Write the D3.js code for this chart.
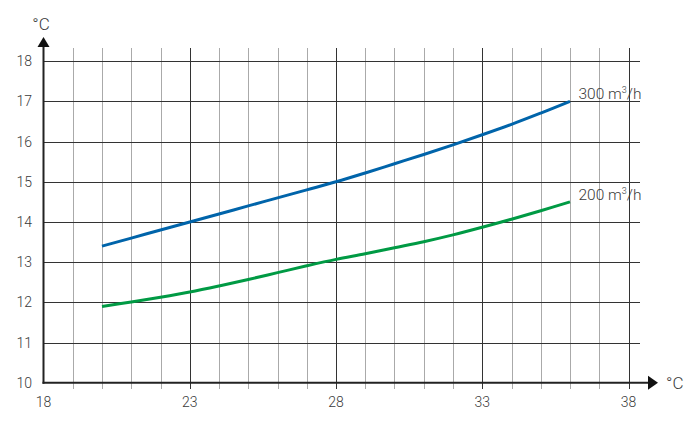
<!DOCTYPE html>
<html>
<head>
<meta charset="utf-8">
<script src="https://cdn.jsdelivr.net/npm/d3@7"></script>
<style>
  html, body { margin: 0; padding: 0; background: #fff; }
  svg { display: block; }
  text { font-family: Roboto, "Liberation Sans", sans-serif; fill: #3a3a3a; font-weight: 300; }
</style>
</head>
<body>
<svg id="chart" width="700" height="426"></svg>
<script>
// ---- data ----
const xTicks = [18, 23, 28, 33, 38];
const yTicks = [10, 11, 12, 13, 14, 15, 16, 17, 18];
const xMinor = d3.range(18, 39, 1);
const airTemp = [20, 21, 22, 23, 24, 25, 26, 27, 28, 29, 30, 31, 32, 33, 34, 35, 36];
const flow300 = [13.4, 13.6, 13.8, 14.0, 14.2, 14.4, 14.6, 14.8, 15.0, 15.22, 15.45, 15.68, 15.92, 16.17, 16.43, 16.71, 17.0];
const flow200 = [11.9, 12.01, 12.13, 12.26, 12.41, 12.57, 12.74, 12.91, 13.07, 13.21, 13.36, 13.51, 13.68, 13.87, 14.07, 14.28, 14.5];
const seriesNames = ["300 m³/h", "200 m³/h"];
const seriesColors = ["#0064aa", "#009a44"];
const unitLabel = "°C";

// ---- layout ----
const svg = d3.select("#chart");
const x = d3.scaleLinear().domain([18, 38]).range([43.5, 628.5]);
const y = d3.scaleLinear().domain([10, 18]).range([382.8, 61.2]);
const gridTop = 48, gridBottom = 389, gridRight = 640;

// minor vertical grid
svg.append("g").selectAll("line").data(xMinor.filter(v => !xTicks.includes(v)))
  .join("line")
  .attr("x1", d => Math.round(x(d)) + 0.5).attr("x2", d => Math.round(x(d)) + 0.5)
  .attr("y1", gridTop).attr("y2", gridBottom)
  .attr("stroke", "#aaa").attr("stroke-width", 1);

// major vertical grid
svg.append("g").selectAll("line").data(xTicks.slice(1))
  .join("line")
  .attr("x1", d => Math.round(x(d)) + 0.5).attr("x2", d => Math.round(x(d)) + 0.5)
  .attr("y1", gridTop).attr("y2", gridBottom)
  .attr("stroke", "#333").attr("stroke-width", 1);

// horizontal grid
svg.append("g").selectAll("line").data(yTicks.slice(1))
  .join("line")
  .attr("x1", x(18)).attr("x2", gridRight)
  .attr("y1", d => Math.round(y(d)) + 0.5).attr("y2", d => Math.round(y(d)) + 0.5)
  .attr("stroke", "#333").attr("stroke-width", 1);

// axes
const ax = x(18), ay = y(10);
svg.append("line").attr("x1", ax).attr("x2", ax).attr("y1", ay + 1).attr("y2", 44)
  .attr("stroke", "#222").attr("stroke-width", 2);
svg.append("path").attr("d", `M${ax - 6},47 L${ax},37 L${ax + 6},47 Z`).attr("fill", "#111");
svg.append("line").attr("x1", ax - 1).attr("x2", 650).attr("y1", ay).attr("y2", ay)
  .attr("stroke", "#222").attr("stroke-width", 2);
svg.append("path").attr("d", `M648,${ay - 7} L658,${ay} L648,${ay + 7} Z`).attr("fill", "#111");

// tick labels
svg.append("g").selectAll("text").data(yTicks).join("text")
  .attr("x", 32).attr("y", d => y(d)).attr("dy", "0.36em")
  .attr("text-anchor", "end").attr("font-size", 14).text(d => d);
svg.append("g").selectAll("text").data(xTicks).join("text")
  .attr("x", d => x(d)).attr("y", 407)
  .attr("text-anchor", "middle").attr("font-size", 14).text(d => d);

// unit labels
svg.append("text").attr("x", 41).attr("y", 30).attr("text-anchor", "middle")
  .attr("font-size", 17).text(unitLabel);
svg.append("text").attr("x", 666).attr("y", 389)
  .attr("font-size", 17).text(unitLabel);

// curves
const line = d3.line().x(d => x(d[0])).y(d => y(d[1])).curve(d3.curveCatmullRom.alpha(0.5));
[flow300, flow200].forEach((vals, i) => {
  const pts = airTemp.map((t, j) => [t, vals[j]]);
  svg.append("path").attr("d", line(pts)).attr("fill", "none")
    .attr("stroke", seriesColors[i]).attr("stroke-width", 3);
  const last = pts[pts.length - 1];
  const t = svg.append("text").attr("x", x(last[0]) + 8.5).attr("y", y(last[1]) - 2)
    .attr("font-size", 15.5);
  const [num, rest] = seriesNames[i].split("³");
  t.append("tspan").text(num);
  t.append("tspan").attr("font-size", 9).attr("dy", -6).text("3");
  t.append("tspan").attr("dy", 6).text(rest);
});
</script>
</body>
</html>
